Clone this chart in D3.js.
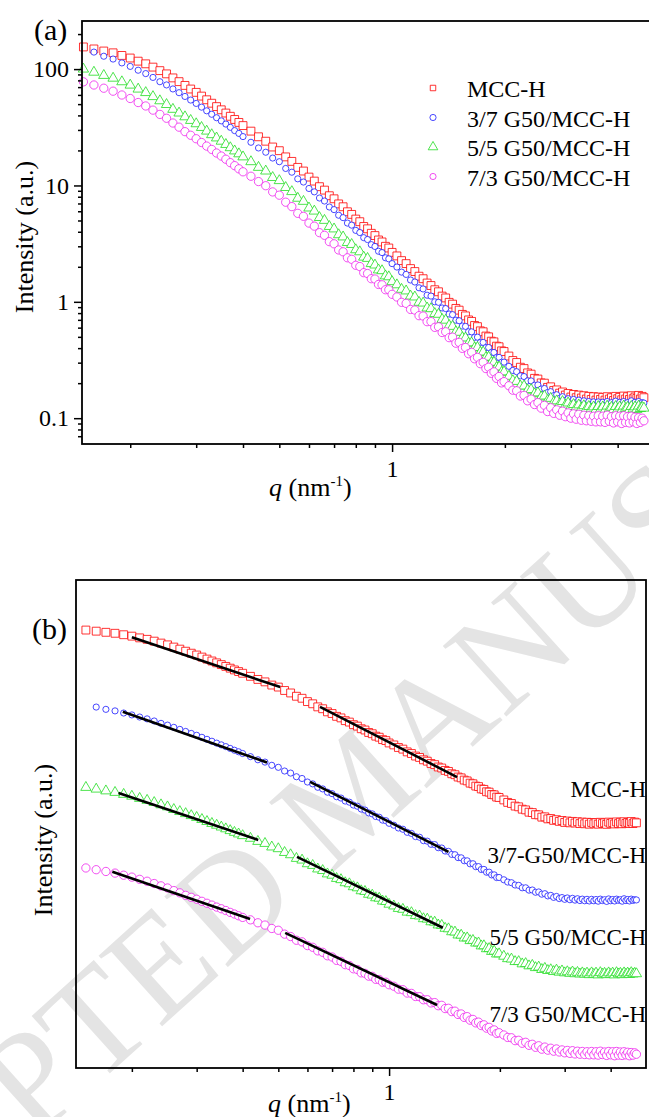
<!DOCTYPE html>
<html>
<head>
<meta charset="utf-8">
<script src="https://cdn.jsdelivr.net/npm/d3@7"></script>
<style>
  body { margin: 0; background: #fff; }
  svg { display: block; }
  text { font-family: "Liberation Serif", "Times New Roman", serif; fill: #000; }
</style>
</head>
<body>
<div id="container"></div>
<script>
// scattering vector q (nm^-1), shared by all four samples
const q = [0.15,0.16,0.17,0.18,0.19,0.20,0.21,0.22,0.23,0.24,0.25,0.26,0.27,0.28,0.29,0.30,0.31,0.32,0.33,0.34,0.35,0.36,0.37,0.38,0.39,0.40,
  0.42,0.44,0.46,0.48,0.50,0.52,0.54,0.56,0.58,0.60,0.62,0.64,0.66,0.68,0.70,0.72,0.74,0.76,0.78,0.80,0.82,0.84,0.86,0.88,0.90,0.92,0.94,0.96,0.98,1.00,
  1.03,1.06,1.09,1.12,1.15,1.18,1.21,1.24,1.27,1.30,1.33,1.36,1.39,1.42,1.45,1.48,1.51,1.54,1.57,1.60,1.63,1.66,1.69,1.72,1.75,1.78,1.81,1.84,1.87,1.90,1.93,1.96,1.99,
  2.05,2.10,2.15,2.20,2.25,2.30,2.35,2.40,2.45,2.50,2.55,2.60,2.65,2.70,2.75,2.80,2.85,2.90,2.95,3.00,3.05,3.10,3.15,3.20,3.25,3.30,3.35,3.40,3.45,3.50,
  3.55,3.60,3.65,3.70,3.75,3.80,3.85,3.90,3.95,4.00,4.05,4.10,4.15,4.20,4.25,4.30,4.35,4.40,4.45,4.50,4.55,4.60,4.65,4.70]

// intensities (a.u.)
const mccH = [155,149,143,138,131,124.5,117,111,104,97,91,84,78,72.4,67.4,63.1,58.6,54.5,50.9,47.6,44.7,41.9,39.3,36.9,34.8,32.7,
  29.3,26.2,24.0,21.4,19.9,17.6,16.1,14.3,13.3,11.8,10.9,9.76,9.12,8.16,7.68,6.94,6.56,5.94,5.64,5.14,4.88,4.44,4.24,3.88,3.71,3.40,3.27,3.00,2.90,2.66,
  2.48,2.26,2.13,1.93,1.82,1.66,1.58,1.45,1.38,1.27,1.22,1.12,1.08,0.99,0.955,0.878,0.848,0.780,0.757,0.699,0.679,0.626,0.612,0.563,0.553,0.508,0.500,0.459,0.453,0.416,0.411,0.379,0.374,
  0.342,0.313,0.301,0.274,0.267,0.245,0.239,0.220,0.217,0.201,0.200,0.184,0.186,0.173,0.175,0.164,0.168,0.158,0.163,0.152,0.160,0.150,0.158,0.149,0.156,0.146,0.154,0.145,0.153,0.143,
  0.152,0.145,0.151,0.143,0.153,0.146,0.150,0.142,0.154,0.147,0.151,0.144,0.155,0.146,0.153,0.145,0.156,0.147,0.152,0.148,0.157,0.146,0.154,0.150]
const g37 = [null,140,129,122,113,105.5,97.8,91.5,84.8,77.9,73.1,67.5,62.7,58.2,54.2,50.7,47.1,43.8,40.9,38.2,35.9,33.7,31.6,29.6,28.0,26.3,
  23.5,21.0,19.3,17.2,16.0,14.0,13.0,11.4,10.7,9.42,8.81,7.80,7.35,6.53,6.20,5.55,5.29,4.75,4.56,4.11,3.94,3.56,3.43,3.10,2.99,2.72,2.65,2.39,2.34,2.13,
  1.99,1.80,1.72,1.54,1.48,1.32,1.29,1.14,1.12,1.00,0.99,0.885,0.875,0.785,0.776,0.695,0.688,0.619,0.615,0.553,0.552,0.495,0.497,0.447,0.448,0.404,0.405,0.366,0.367,0.332,0.333,0.302,0.303,
  0.279,0.257,0.251,0.231,0.228,0.209,0.209,0.192,0.193,0.178,0.180,0.166,0.169,0.156,0.159,0.148,0.153,0.142,0.147,0.138,0.145,0.136,0.143,0.134,0.141,0.132,0.139,0.131,0.138,0.130,
  0.138,0.131,0.137,0.129,0.139,0.132,0.136,0.128,0.140,0.131,0.137,0.130,0.139,0.133,0.136,0.129,0.141,0.132,0.137,0.130,0.139,0.133,0.136,0.135]
const g55 = [100,94.0,88.2,83.5,77.8,72.8,67.3,62.8,58.0,53.4,49.6,45.1,41.9,38.9,36.2,33.9,31.5,29.3,27.3,25.6,24.0,22.5,21.1,19.8,18.7,17.6,
  16.0,14.3,13.3,11.7,11.0,9.60,8.85,7.76,7.30,6.40,6.02,5.30,5.01,4.44,4.23,3.77,3.61,3.23,3.11,2.80,2.69,2.42,2.36,2.13,2.07,1.88,1.85,1.67,1.64,1.49,
  1.40,1.28,1.24,1.12,1.10,0.99,0.975,0.885,0.872,0.792,0.781,0.706,0.695,0.626,0.615,0.553,0.547,0.492,0.489,0.441,0.444,0.402,0.405,0.368,0.370,0.332,0.334,0.300,0.302,0.272,0.275,0.248,0.250,
  0.229,0.210,0.207,0.189,0.189,0.174,0.176,0.162,0.165,0.152,0.155,0.142,0.148,0.137,0.141,0.132,0.139,0.129,0.135,0.126,0.131,0.124,0.130,0.122,0.128,0.121,0.126,0.120,0.125,0.118,
  0.126,0.119,0.125,0.117,0.127,0.120,0.124,0.118,0.126,0.119,0.125,0.117,0.127,0.121,0.124,0.118,0.126,0.120,0.125,0.119,0.127,0.121,0.124,0.122]
const g73 = [77.7,73.0,68.5,64.6,59.9,55.9,51.6,48.2,44.4,40.8,37.8,34.4,31.7,29.0,27.0,25.2,23.4,21.8,20.4,19.0,17.9,16.8,15.7,14.8,13.9,13.1,
  12.0,10.8,9.95,8.80,8.25,7.18,6.58,5.76,5.43,4.75,4.47,3.93,3.73,3.29,3.15,2.79,2.69,2.39,2.32,2.06,2.01,1.78,1.75,1.58,1.57,1.41,1.40,1.27,1.27,1.16,
  1.10,0.99,0.97,0.86,0.85,0.76,0.755,0.675,0.676,0.603,0.610,0.545,0.553,0.492,0.497,0.441,0.448,0.398,0.405,0.358,0.368,0.324,0.333,0.294,0.302,0.267,0.274,0.243,0.250,0.220,0.228,0.201,0.206,
  0.190,0.174,0.172,0.155,0.157,0.141,0.146,0.131,0.136,0.122,0.129,0.114,0.123,0.110,0.118,0.106,0.115,0.103,0.111,0.100,0.109,0.098,0.108,0.096,0.106,0.095,0.105,0.094,0.104,0.093,
  0.105,0.093,0.104,0.092,0.106,0.094,0.103,0.091,0.105,0.093,0.104,0.090,0.105,0.092,0.103,0.091,0.104,0.093,0.102,0.090,0.101,0.092,0.100,0.095]

const legendNames = ['MCC-H', '3/7 G50/MCC-H', '5/5 G50/MCC-H', '7/3 G50/MCC-H']
const curveNamesB = ['MCC-H', '3/7-G50/MCC-H', '5/5 G50/MCC-H', '7/3 G50/MCC-H']
// vertical shift factors used to stack the curves in panel (b)
const shiftB = [1, 0.0692, 0.00537, 0.00038]

// power-law fit segments in panel (b), unshifted units
const fitSeries = [0, 0, 1, 1, 2, 2, 3, 3]
const fitQ0 = [0.200, 0.649, 0.189, 0.610, 0.184, 0.562, 0.177, 0.522]
const fitQ1 = [0.506, 1.53, 0.466, 1.45, 0.441, 1.40, 0.419, 1.35]
const fitI0 = [120, 9.75, 118, 9.5, 82, 8.2, 68, 7.5]
const fitI1 = [19.9, 0.78, 19.0, 0.76, 15.1, 0.64, 12.4, 0.56]

const yMajorA = [0.1, 1, 10, 100]
const yMinorA = [0.07,0.08,0.09,0.2,0.3,0.4,0.5,0.6,0.7,0.8,0.9,2,3,4,5,6,7,8,9,20,30,40,50,60,70,80,90,200]
const xMajor = [1]
const xMinor = [0.2,0.3,0.4,0.5,0.6,0.7,0.8,0.9,2,3,4]

const COLORS = ['#ff0000', '#1a1aff', '#22dd22', '#ee22ee']
const SHAPES = [d3.symbolSquare, d3.symbolCircle, d3.symbolTriangle, d3.symbolCircle]
const SIZES = [62, 30, 46, 54]
const allSeries = [mccH, g37, g55, g73]

const W = 649, H = 1117
const svg = d3.select('#container').append('svg')
  .attr('width', W).attr('height', H)

// watermark, deliberately running off the page like the source
svg.append('text')
  .attr('transform', 'translate(353,790) rotate(-42)')
  .attr('text-anchor', 'middle')
  .attr('dy', '0.33em')
  .style('font-size', '145px')
  .style('fill', '#e4e4e4')
  .text('ACCEPTED MANUSCRIPT')

function points(vals, shift) {
  return q.map((d, i) => ({q: d, I: vals[i] == null ? null : vals[i] * shift}))
    .filter(d => d.I != null)
}

function drawSeries(g, x, y, shifts) {
  allSeries.forEach((vals, k) => {
    g.append('g').selectAll('path')
      .data(points(vals, shifts[k]))
      .join('path')
      .attr('transform', d => 'translate(' + x(d.q) + ',' + y(d.I) + ')')
      .attr('d', d3.symbol().type(SHAPES[k]).size(SIZES[k]))
      .attr('fill', '#fff')
      .attr('stroke', COLORS[k])
      .attr('stroke-width', 0.8)
  })
}

function styleAxis(g, fontSize) {
  g.select('.domain').remove()
  g.selectAll('line').attr('stroke', '#000').attr('stroke-width', 1.5)
  g.selectAll('text').style('font-size', fontSize + 'px')
    .style('font-family', '"Liberation Serif", "Times New Roman", serif')
}

function qLabel(x, y) {
  var t = svg.append('text').attr('x', x).attr('y', y).style('font-size', '26px')
  t.append('tspan').style('font-style', 'italic').text('q')
  t.append('tspan').text(' (nm')
  t.append('tspan').attr('dy', -10).style('font-size', '15px').text('-1')
  t.append('tspan').attr('dy', 10).text(')')
}

// ---------- panel (a) ----------
const xA = d3.scaleLog().domain([0.1487, 4.94]).range([82, 652])
const yA = d3.scaleLog().domain([0.06, 259]).range([444, 21])

const gA = svg.append('g')
drawSeries(gA, xA, yA, [1, 1, 1, 1])

gA.append('rect')
  .attr('x', 82).attr('y', 21).attr('width', 570).attr('height', 423)
  .attr('fill', 'none').attr('stroke', '#000').attr('stroke-width', 1.8)

gA.append('g').attr('transform', 'translate(82,0)')
  .call(d3.axisLeft(yA).tickValues(yMinorA).tickSize(4).tickFormat(''))
  .call(g => styleAxis(g, 24))
gA.append('g').attr('transform', 'translate(82,0)')
  .call(d3.axisLeft(yA).tickValues(yMajorA).tickSize(8).tickPadding(5)
    .tickFormat(d => d < 1 ? d.toFixed(1) : String(d)))
  .call(g => styleAxis(g, 24))
gA.append('g').attr('transform', 'translate(0,444)')
  .call(d3.axisBottom(xA).tickValues(xMinor).tickSize(4).tickFormat(''))
  .call(g => styleAxis(g, 24))
gA.append('g').attr('transform', 'translate(0,444)')
  .call(d3.axisBottom(xA).tickValues(xMajor).tickSize(8).tickPadding(8).tickFormat(d3.format('d')))
  .call(g => styleAxis(g, 24))

svg.append('text').attr('x', 34).attr('y', 40).style('font-size', '30px').text('(a)')
svg.append('text')
  .attr('transform', 'translate(33,237) rotate(-90)')
  .attr('text-anchor', 'middle')
  .style('font-size', '26px')
  .text('Intensity (a.u.)')
qLabel(269, 496)

// legend
const legend = gA.append('g')
legendNames.forEach((name, k) => {
  var cy = 88 + k * 29.5
  legend.append('path')
    .attr('transform', 'translate(433,' + cy + ')')
    .attr('d', d3.symbol().type(SHAPES[k]).size(k == 2 ? 40 : 30))
    .attr('fill', '#fff').attr('stroke', COLORS[k]).attr('stroke-width', 0.8)
  legend.append('text').attr('x', 467).attr('y', cy + 9)
    .style('font-size', '24px').text(name)
})

// ---------- panel (b) ----------
const xB = d3.scaleLog().domain([0.141, 4.99]).range([76, 646])
const yB = d3.scaleLog().domain([2.2e-5, 940]).range([1068, 580])

const gB = svg.append('g')
drawSeries(gB, xB, yB, shiftB)

gB.append('g').selectAll('line')
  .data(fitSeries.map((s, i) => ({s: s, q0: fitQ0[i], q1: fitQ1[i], i0: fitI0[i], i1: fitI1[i]})))
  .join('line')
  .attr('x1', d => xB(d.q0)).attr('y1', d => yB(d.i0 * shiftB[d.s]))
  .attr('x2', d => xB(d.q1)).attr('y2', d => yB(d.i1 * shiftB[d.s]))
  .attr('stroke', '#000').attr('stroke-width', 2.6)

gB.append('rect')
  .attr('x', 76).attr('y', 580).attr('width', 570).attr('height', 488)
  .attr('fill', 'none').attr('stroke', '#000').attr('stroke-width', 1.8)

gB.append('g').attr('transform', 'translate(0,1068)')
  .call(d3.axisBottom(xB).tickValues(xMinor).tickSize(4).tickFormat(''))
  .call(g => styleAxis(g, 24))
gB.append('g').attr('transform', 'translate(0,1068)')
  .call(d3.axisBottom(xB).tickValues(xMajor).tickSize(8).tickPadding(7).tickFormat(d3.format('d')))
  .call(g => styleAxis(g, 24))

const labelYB = [797, 863, 945, 1022]
curveNamesB.forEach((name, k) => {
  gB.append('text').attr('x', 646).attr('y', labelYB[k])
    .attr('text-anchor', 'end').style('font-size', '23px').text(name)
})

svg.append('text').attr('x', 32).attr('y', 639).style('font-size', '30px').text('(b)')
svg.append('text')
  .attr('transform', 'translate(52,840) rotate(-90)')
  .attr('text-anchor', 'middle')
  .style('font-size', '26px')
  .text('Intensity (a.u.)')
qLabel(268, 1112)
</script>
</body>
</html>
